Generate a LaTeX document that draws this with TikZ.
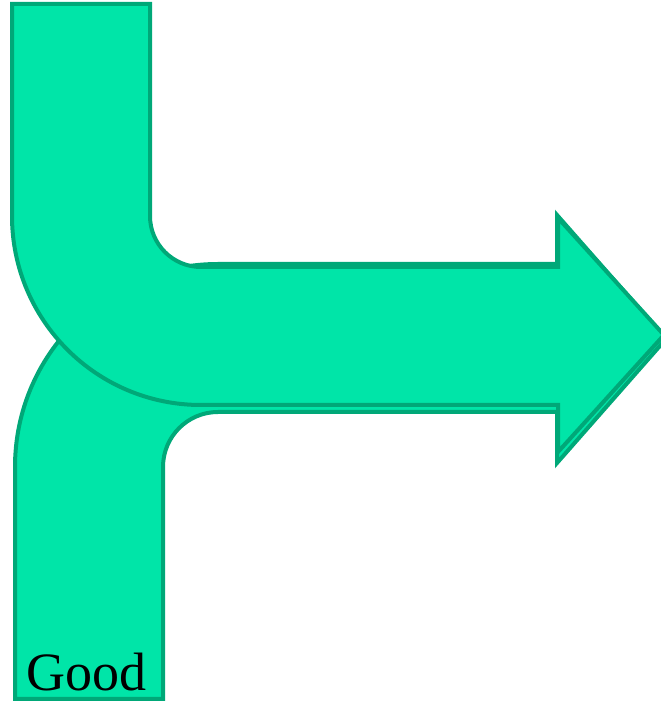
\documentclass[tikz,border=0pt]{standalone}
\usepackage{fontspec}
\setmainfont{Liberation Serif}
\definecolor{arrowfill}{RGB}{0,229,168}
\definecolor{arrowline}{RGB}{0,168,120}
\begin{document}
\begin{tikzpicture}[x=1pt,y=1pt,
  bigarrow/.style={fill=arrowfill,draw=arrowline,line width=4pt,line join=miter}]
\useasboundingbox (0,0) rectangle (661,702);
\begin{scope}
\clip (0,0) rectangle (661,702);
% lower arrow (behind)
\path[bigarrow] (15,3) -- (163,3) -- (163,235)
  arc[start angle=180,end angle=90,radius=55] -- (557,290) -- (557,239)
  -- (666,363) -- (557,487) -- (557,438) -- (218,438)
  arc[start angle=90,end angle=180,radius=203] -- cycle;
% upper arrow (front)
\path[bigarrow] (12,698) -- (150,698) -- (150,486)
  arc[start angle=180,end angle=270,radius=51] -- (558,435) -- (558,484)
  -- (664,367) -- (558,250) -- (558,297) -- (201,297)
  arc[start angle=270,end angle=180,radius=189] -- cycle;
\end{scope}
\node[anchor=base west,inner sep=0pt,font=\fontsize{54}{60}\selectfont] (good) at (26,12) {Good};
\end{tikzpicture}
\end{document}
